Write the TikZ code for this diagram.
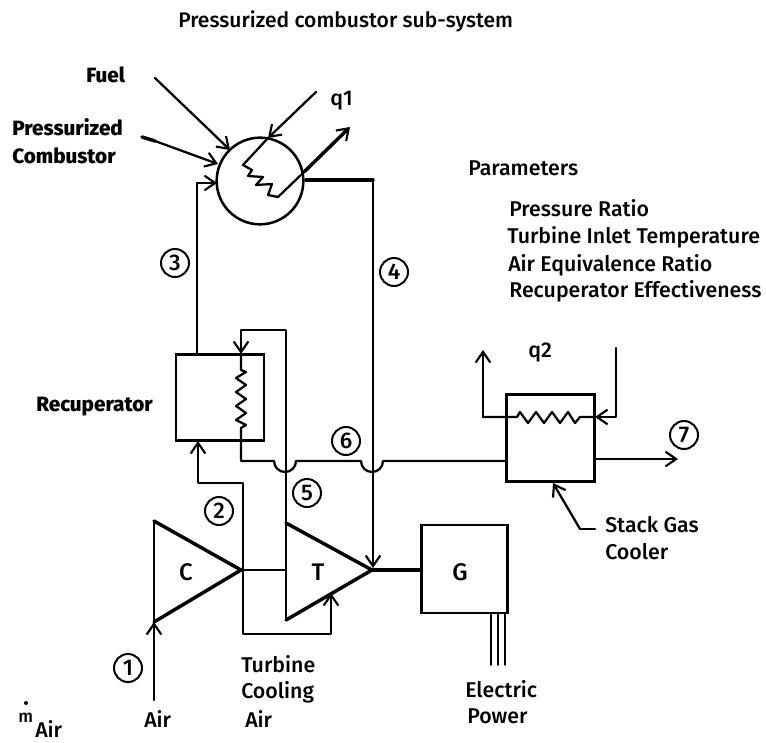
\documentclass[tikz,border=0pt]{standalone}
\usepackage{fontspec}
\setmainfont{Fira Sans}[UprightFont=* Medium]
\usetikzlibrary{arrows.meta}
\tikzset{
  line/.style={line width=1.7pt,line cap=round,line join=round},
  thin line/.style={line width=1.3pt,line cap=round,line join=round},
  thick line/.style={line width=2.6pt,line cap=round,line join=round},
  edge line/.style={line width=1.4pt},
  arr/.style={-{Straight Barb[length=8pt,width=11pt,line width=1.6pt]}},
  box/.style={draw,line width=2.1pt,inner sep=0pt},
  num/.style={draw,circle,line width=1.5pt,minimum size=21pt,inner sep=0pt,font=\fontsize{17}{17}\selectfont},
  lab/.style={inner sep=0pt,anchor=base west,font=\fontsize{16}{16}\selectfont},
  boldlab/.style={lab,font=\fontsize{15.5}{16}\selectfont\bfseries},
  clab/.style={inner sep=0pt,anchor=base,font=\fontsize{18}{18}\selectfont},
}
\begin{document}
\begin{tikzpicture}[x=0.75pt,y=-0.75pt]
\useasboundingbox (0,0) rectangle (766,742);
% main units
\node[draw,circle,line width=1.9pt,minimum size=65pt,inner sep=0pt] (comb) at (260,181) {};
\node[box,minimum width=66pt,minimum height=65pt] (rec) at (220,397.5) {};
\node[box,minimum width=65pt,minimum height=66pt] (gen) at (464.5,569) {};
\node[box,minimum width=66pt,minimum height=65pt] (cool) at (550.5,438) {};
% named points
\coordinate (fuelS) at (155,78);
\coordinate (fuelE) at (230,150);
\coordinate (pressS) at (142,137);
\coordinate (pressM) at (155,141);
\coordinate (pressE) at (218,164);
\coordinate (q1in) at (316,92);
\coordinate (q1top) at (268,138);
\coordinate (q1right) at (304,172);
\coordinate (q1out) at (350,127);
\coordinate (r3) at (197,354);
\coordinate (in3b) at (197,183);
\coordinate (in3) at (217,183);
\coordinate (o4a) at (306,180);
\coordinate (o4b) at (373,180);
\coordinate (o4c) at (373,568);
\coordinate (ttip) at (372,570);
\coordinate (c1) at (154,521);
\coordinate (c2) at (154,622);
\coordinate (c3) at (241,570);
\coordinate (t1) at (286,523);
\coordinate (t2) at (286,620);
\coordinate (tin) at (286,570);
\coordinate (genin) at (420,570);
\coordinate (airS) at (154,700);
\coordinate (j2) at (243,570);
\coordinate (j2a) at (243,483);
\coordinate (j2b) at (198,483);
\coordinate (recin) at (198,441);
\coordinate (j3a) at (243,634);
\coordinate (j3b) at (331,634);
\coordinate (j3c) at (331,593);
\coordinate (l5a) at (286,330);
\coordinate (l5b) at (241,330);
\coordinate (rectop) at (241,354);
\coordinate (coilT) at (241,370);
\coordinate (coilB) at (241,428);
\coordinate (l6a) at (241,461);
\coordinate (hump1) at (274,461);
\coordinate (hump2) at (361,461);
\coordinate (coolin) at (505,461);
\coordinate (q2in) at (616,348);
\coordinate (q2b) at (616,417);
\coordinate (q2c) at (595,417);
\coordinate (q2d) at (483,417);
\coordinate (q2out) at (483,350);
\coordinate (o7a) at (595,459);
\coordinate (o7b) at (678,459);
\coordinate (leadS) at (595,529);
\coordinate (leadM) at (580,529);
\coordinate (leadE) at (553,483);
\coordinate (w1a) at (491,613); \coordinate (w1b) at (491,665);
\coordinate (w2a) at (498,613); \coordinate (w2b) at (498,665);
\coordinate (w3a) at (505,613); \coordinate (w3b) at (505,665);
% combustor inputs
\draw[line,arr] (fuelS) -- (fuelE);
\draw[thick line] (pressS) -- (pressM);
\draw[line,arr] (pressM) -- (pressE);
% q1
\draw[line,arr] (q1in) -- (q1top);
\draw[line] (q1top) -- (243,165) -- (252,170) -- (248,176) -- (263,177) -- (256,185) -- (272,184) -- (268,195) -- (278,197) -- (q1right);
\draw[thick line,arr] (q1right) -- (q1out);
% 3 and 4
\draw[line,arr] (r3) -- (in3b) -- (in3);
\draw[thick line] (o4a) -- (o4b);
\draw[line,arr] (o4b) -- (o4c);
% turbine, compressor
\draw[edge line] (c1) -- (c2);
\draw[edge line] (t1) -- (t2);
\draw[thick line] (c1) -- (c3) -- (c2);
\draw[thick line] (t1) -- (ttip) -- (t2);
\draw[line] (c3) -- (tin);
\draw[thick line] (ttip) -- (genin);
% generator wires
\draw[thin line] (w1a) -- (w1b);
\draw[thin line] (w2a) -- (w2b);
\draw[thin line] (w3a) -- (w3b);
% air in
\draw[line,arr] (airS) -- (c2);
% 2 line
\draw[line,arr] (j2) -- (j2a) -- (j2b) -- (recin);
\draw[line,arr] (j2) -- (j3a) -- (j3b) -- (j3c);
% 5 line and coil
\draw[thin line,arr] (t1) -- (l5a) -- (l5b) -- (rectop);
\draw[line] (rectop) -- (coilT) -- (246,372) -- (236,378) -- (246,385) -- (236,392) -- (246,399) -- (236,406) -- (246,413) -- (236,420) -- (246,425) -- (coilB);
\draw[line] (coilB) -- (l6a) -- (hump1) arc[start angle=180,end angle=0,radius=11] -- (hump2) arc[start angle=180,end angle=0,radius=11] -- (coolin);
% cooler
\draw[line,arr] (q2in) -- (q2b) -- (q2c);
\draw[line] (q2c) -- (580,417) -- (575,423) -- (568,412) -- (560,423) -- (552,412) -- (544,423) -- (536,412) -- (528,423) -- (520,412) -- (517,417) -- (q2d);
\draw[line,arr] (q2d) -- (q2out);
\draw[line,arr] (o7a) -- (o7b);
\draw[line] (leadS) -- (leadM);
\draw[line,arr] (leadM) -- (leadE);
% numbers
\node[num] (n1) at (128,668) {1};
\node[num] (n2) at (219,511) {2};
\node[num] (n3) at (175,263) {3};
\node[num] (n4) at (394,272) {4};
\node[num] (n5) at (307,493) {5};
\node[num] (n6) at (346,441) {6};
\node[num] (n7) at (684,435) {7};
% labels
\node[lab,font=\fontsize{15.8}{16}\selectfont] (title) at (178,28) {Pressurized combustor sub-system};
\node[boldlab] (fuel) at (86,83) {Fuel};
\node[boldlab] (press) at (12,135) {Pressurized};
\node[boldlab] (combl) at (12,163) {Combustor};
\node[lab] (q1) at (330,105) {q1};
\node[lab] (par) at (468,175) {Parameters};
\node[lab] (p1) at (509,216) {Pressure Ratio};
\node[lab] (p2) at (507,243) {Turbine Inlet Temperature};
\node[lab] (p3) at (508,271) {Air Equivalence Ratio};
\node[lab] (p4) at (509,297) {Recuperator Effectiveness};
\node[boldlab] (reclab) at (36,411) {Recuperator};
\node[lab] (q2) at (528,357) {q2};
\node[lab] (stack) at (605,532) {Stack Gas};
\node[lab] (cooler) at (605,559) {Cooler};
\node[clab] (C) at (186,580) {C};
\node[clab] (T) at (318,580) {T};
\node[clab] (G) at (460,580) {G};
\node[lab] (tb) at (241,672) {Turbine};
\node[lab] (cl) at (241,698) {Cooling};
\node[lab] (ca) at (245,727) {Air};
\node[lab] (air) at (144,727) {Air};
\node[lab] (ep1) at (465,697) {Electric};
\node[lab] (ep2) at (467,723) {Power};
\node[lab,font=\fontsize{13}{13}\selectfont] (mdot) at (18,722) {m};
\fill (26,703) circle[radius=2];
\node[lab] (mair) at (35,737) {Air};
\end{tikzpicture}
\end{document}
